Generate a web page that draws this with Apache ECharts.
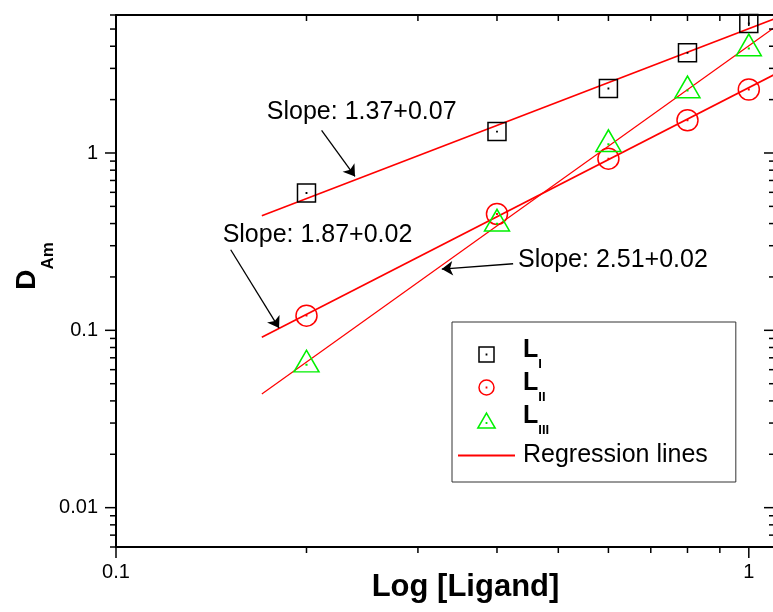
<!DOCTYPE html>
<html><head><meta charset="utf-8">
<script src="https://cdn.jsdelivr.net/npm/echarts@6/dist/echarts.min.js"></script>
<style>html,body{margin:0;padding:0;background:#fff}#c{width:773px;height:612px}</style>
</head><body><div id="c"></div>
<script>
// ---- data ----
const ligand = [0.2, 0.4, 0.6, 0.8, 1.0];
const dL1 = [0.595, 1.32, 2.31, 3.67, 5.37];
const dL2 = [0.121, 0.453, 0.929, 1.53, 2.28];
const dL3 = [0.064, 0.399, 1.12, 2.25, 3.88];
const reg1 = [[0.17, 0.443], [1.1, 5.72]];
const reg2 = [[0.17, 0.0915], [1.1, 2.78]];
const reg3 = [[0.17, 0.0438], [1.1, 5.13]];
const slopeLabels = ['Slope: 1.37+0.07', 'Slope: 1.87+0.02', 'Slope: 2.51+0.02'];
const slopeLabelAt = [[0.1731, 1.71], [0.1474, 0.346], [0.4319, 0.25]];
const arrowFrom = [[0.2113, 1.341], [0.1518, 0.2847], [0.4242, 0.2373]];
const arrowTo = [[0.2386, 0.738], [0.181, 0.1029], [0.3272, 0.2215]];
const xRange = [0.1, 1.1];
const yRange = [0.006, 6];
const xMajorTicks = [0.1, 1];
const xMinorTicks = [0.2, 0.3, 0.4, 0.5, 0.6, 0.7, 0.8, 0.9];
const yMajorTicks = [0.01, 0.1, 1];
const yMinorTicks = [0.006, 0.007, 0.008, 0.009, 0.02, 0.03, 0.04, 0.05, 0.06, 0.07, 0.08, 0.09,
  0.2, 0.3, 0.4, 0.5, 0.6, 0.7, 0.8, 0.9, 2, 3, 4, 5, 6];
const seriesNames = ['LI', 'LII', 'LIII'];
const subscripts = ['I', 'II', 'III'];
const regName = 'Regression lines';

const FONT = '"Liberation Sans", Arial, sans-serif';
const sqPath = 'path://M0,0H10V10H0Z M4.9,4.9H5.1V5.1H4.9Z';
const ciPath = 'path://M0,5A5,5,0,1,1,10,5A5,5,0,1,1,0,5Z M4.9,4.9H5.1V5.1H4.9Z';
const trPath = 'path://M5,0L10,8.66L0,8.66Z M4.9,5.67H5.1V5.87H4.9Z';

function tickSeries(values, axis, len) {
  return {
    type: 'custom', silent: true, clip: false, z: 6,
    data: values.map(v => axis === 'x' ? [v, yRange[0]] : [xRange[0], v]),
    renderItem: function (params, api) {
      const st = { stroke: '#000', lineWidth: 1.5 };
      const ch = [];
      if (axis === 'x') {
        const v = api.value(0);
        const b = api.coord([v, yRange[0]]);
        const t = api.coord([v, yRange[1]]);
        ch.push({ type: 'line', shape: { x1: b[0], y1: b[1], x2: b[0], y2: b[1] + len }, style: st });
        ch.push({ type: 'line', shape: { x1: t[0], y1: t[1], x2: t[0], y2: t[1] + len }, style: st });
      } else {
        const v = api.value(1);
        const l = api.coord([xRange[0], v]);
        const r = api.coord([xRange[1], v]);
        ch.push({ type: 'line', shape: { x1: l[0] - len, y1: l[1], x2: l[0], y2: l[1] }, style: st });
        ch.push({ type: 'line', shape: { x1: r[0] - len, y1: r[1], x2: r[0], y2: r[1] }, style: st });
      }
      return { type: 'group', children: ch };
    }
  };
}

function isDecade(v) {
  const l = Math.log10(v);
  return Math.abs(l - Math.round(l)) < 1e-6;
}

const axisLine = { show: true, lineStyle: { color: '#000', width: 2 } };

const chart = echarts.init(document.getElementById('c'), null, { renderer: 'canvas' });
chart.setOption({
  animation: false,
  backgroundColor: '#fff',
  textStyle: { fontFamily: FONT },
  grid: { left: 116, right: -2, top: 15, bottom: 65, containLabel: false, outerBoundsMode: 'none' },
  xAxis: [{
    type: 'log', logBase: 10, min: xRange[0], max: xRange[1], position: 'bottom',
    axisLine: axisLine, axisTick: { show: false }, splitLine: { show: false },
    axisLabel: { color: '#000', fontSize: 20, margin: 15, fontFamily: FONT,
      formatter: v => isDecade(v) ? String(+v.toPrecision(6)) : '' },
    name: 'Log [Ligand]', nameLocation: 'middle', nameGap: 25, nameMoveOverlap: false,
    nameTextStyle: { color: '#000', fontSize: 31, fontWeight: 'bold', fontFamily: FONT, padding: [0, 0, 0, 40] }
  }, {
    type: 'log', logBase: 10, min: xRange[0], max: xRange[1], position: 'top',
    axisLine: axisLine, axisTick: { show: false }, axisLabel: { show: false }, splitLine: { show: false }
  }],
  yAxis: [{
    type: 'log', logBase: 10, min: yRange[0], max: yRange[1], position: 'left',
    axisLine: axisLine, axisTick: { show: false }, splitLine: { show: false },
    axisLabel: { color: '#000', fontSize: 20, margin: 18, fontFamily: FONT,
      formatter: v => isDecade(v) ? String(+v.toPrecision(6)) : '' },
    name: '{d|D}{s|Am}', nameLocation: 'middle', nameGap: 59, nameRotate: 90, nameMoveOverlap: false,
    nameTextStyle: {
      color: '#000', fontFamily: FONT,
      rich: {
        d: { fontSize: 28, fontWeight: 'bold', lineHeight: 44, padding: [0, 0, 0, 30], verticalAlign: 'top', fontFamily: FONT, color: '#000' },
        s: { fontSize: 17, fontWeight: 'bold', verticalAlign: 'bottom', fontFamily: FONT, color: '#000' }
      }
    }
  }, {
    type: 'log', logBase: 10, min: yRange[0], max: yRange[1], position: 'right',
    axisLine: axisLine, axisTick: { show: false }, axisLabel: { show: false }, splitLine: { show: false }
  }],
  legend: {
    orient: 'vertical', left: 452, top: 322, padding: [16, 28, 8, 5], itemGap: 0,
    itemWidth: 57, itemHeight: 15, borderColor: '#333', borderWidth: 1, backgroundColor: '#fff',
    selectedMode: false,
    data: seriesNames.concat([{ name: regName, itemStyle: { color: 'rgba(0,0,0,0)', borderColor: 'rgba(0,0,0,0)', borderWidth: 0, opacity: 0 } }]),
    itemStyle: { borderWidth: 1.5 },
    formatter: function (name) {
      const i = seriesNames.indexOf(name);
      return i >= 0 ? '{l|L}{s|' + subscripts[i] + '}' : '{r|' + name + '}';
    },
    textStyle: {
      color: '#000', fontFamily: FONT,
      rich: {
        l: { fontSize: 25, fontWeight: 'bold', lineHeight: 33, padding: [0, 0, 0, 3], verticalAlign: 'top', color: '#000', fontFamily: FONT },
        s: { fontSize: 13, fontWeight: 'bold', verticalAlign: 'bottom', color: '#000', fontFamily: FONT },
        r: { fontSize: 25, lineHeight: 37, height: 37, padding: [0, 0, 0, 3], color: '#000', fontFamily: FONT }
      }
    }
  },
  series: [
    { name: regName, type: 'line', data: reg3, symbol: 'none', lineStyle: { color: '#ff0000', width: 1.2 }, itemStyle: { color: '#ff0000' }, z: 2, silent: true },
    { name: regName, type: 'line', data: reg1, symbol: 'none', lineStyle: { color: '#ff0000', width: 1.6 }, itemStyle: { color: '#ff0000' }, z: 2, silent: true },
    { name: regName, type: 'line', data: reg2, symbol: 'none', lineStyle: { color: '#ff0000', width: 1.6 }, itemStyle: { color: '#ff0000' }, z: 2, silent: true },
    { name: seriesNames[0], type: 'scatter', data: ligand.map((x, i) => [x, dL1[i]]), symbol: sqPath, symbolSize: 18,
      itemStyle: { color: 'none', borderColor: '#000', borderWidth: 1.5, opacity: 1 }, z: 3, clip: false },
    { name: seriesNames[1], type: 'scatter', data: ligand.map((x, i) => [x, dL2[i]]), symbol: ciPath, symbolSize: 21,
      itemStyle: { color: 'none', borderColor: '#ff0000', borderWidth: 1.5, opacity: 1 }, z: 3, clip: false },
    { name: seriesNames[2], type: 'scatter', data: ligand.map((x, i) => [x, dL3[i]]), symbol: trPath, symbolSize: [25, 21.6], symbolOffset: [0, -3.6],
      itemStyle: { color: 'none', borderColor: '#00f000', borderWidth: 1.5, opacity: 1 }, z: 3, clip: false },
    { type: 'lines', coordinateSystem: 'cartesian2d', silent: true, z: 4,
      symbol: ['none', 'arrow'], symbolSize: 11,
      lineStyle: { color: '#000', width: 1.3, opacity: 1, curveness: 0 },
      data: arrowFrom.map((a, i) => ({ coords: [a, arrowTo[i]] })) },
    { type: 'custom', silent: true, clip: false, z: 5,
      data: slopeLabelAt.map((p, i) => [p[0], p[1], i]),
      renderItem: function (params, api) {
        const p = api.coord([api.value(0), api.value(1)]);
        return { type: 'text', x: p[0], y: p[1],
          style: { text: slopeLabels[api.value(2)], fill: '#000', font: '25px ' + FONT, align: 'left', verticalAlign: 'middle' } };
      } },
    tickSeries(xMajorTicks, 'x', 11),
    tickSeries(xMinorTicks, 'x', 6),
    tickSeries(yMajorTicks, 'y', 11),
    tickSeries(yMinorTicks, 'y', 6)
  ]
});
</script>
</body></html>
